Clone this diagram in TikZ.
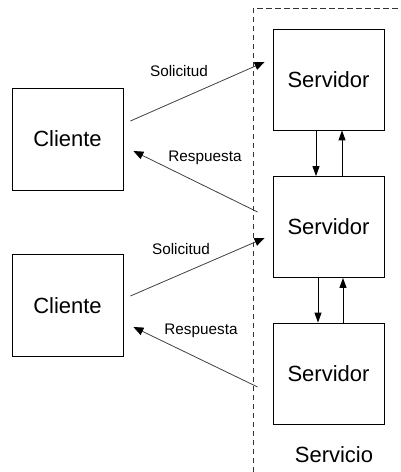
\documentclass[tikz,border=0pt]{standalone}
\usepackage{fontspec}
\setmainfont{Liberation Sans}
\usetikzlibrary{arrows.meta,calc}

\tikzset{
  caja/.style={draw=black,line width=.8pt,minimum width=111pt,minimum height=101pt,inner sep=0pt,font=\fontsize{22}{26}\selectfont},
  etiq/.style={inner sep=0pt,font=\fontsize{15.3}{18}\selectfont},
  flecha/.style={draw=black!75,line width=.8pt,-{Triangle[length=10pt,width=8pt,black]}},
  vflecha/.style={draw=black,line width=.9pt,-{Triangle[length=10pt,width=7pt]}}
}

\begin{document}
\begin{tikzpicture}[x=1pt,y=-1pt]
\useasboundingbox (0,0) rectangle (401,472);
\draw[black!80,line width=.9pt,dash pattern=on 5.5pt off 3.5pt] (253,472) |- (401,8);

\node[caja] (s1) at (328.5,79.5) {Servidor};
\node[caja] (s2) at (328.5,227) {Servidor};
\node[caja] (s3) at (328.5,373.5) {Servidor};
\node[caja,minimum height=102pt] (c1) at (67.5,139) {Cliente};
\node[caja,minimum height=102pt] (c2) at (67.5,305.5) {Cliente};
\node[font=\fontsize{22}{26}\selectfont,inner sep=0pt] (srv) at (334,455) {Servicio};

\coordinate (sol1a) at ($(c1.east)+(7,-18)$);
\coordinate (sol1b) at ($(s1.west)+(-8,-17.5)$);
\coordinate (res1a) at ($(s2.west)+(-15,-15)$);
\coordinate (res1b) at ($(c1.east)+(10,12)$);
\coordinate (sol2a) at ($(c2.east)+(7,-9.5)$);
\coordinate (sol2b) at ($(s2.west)+(-8,11)$);
\coordinate (res2a) at ($(s3.west)+(-15,13.5)$);
\coordinate (res2b) at ($(c2.east)+(10,21.5)$);

\draw[flecha] (sol1a) -- (sol1b);
\draw[flecha] (res1a) -- (res1b);
\draw[flecha] (sol2a) -- (sol2b);
\draw[flecha] (res2a) -- (res2b);

\node[etiq] (lsol1) at (179,71) {Solicitud};
\node[etiq] (lres1) at (205,158) {Respuesta};
\node[etiq] (lsol2) at (181,249) {Solicitud};
\node[etiq] (lres2) at (201,331) {Respuesta};

\draw[vflecha] ([xshift=-12.5pt]s1.south) -- ([xshift=-12.5pt]s2.north);
\draw[vflecha] ([xshift=13.5pt]s2.north) -- ([xshift=13.5pt]s1.south);
\draw[vflecha] ([xshift=-10.5pt]s2.south) -- ([xshift=-10.5pt]s3.north);
\draw[vflecha] ([xshift=14.5pt]s3.north) -- ([xshift=14.5pt]s2.south);
\end{tikzpicture}
\end{document}
